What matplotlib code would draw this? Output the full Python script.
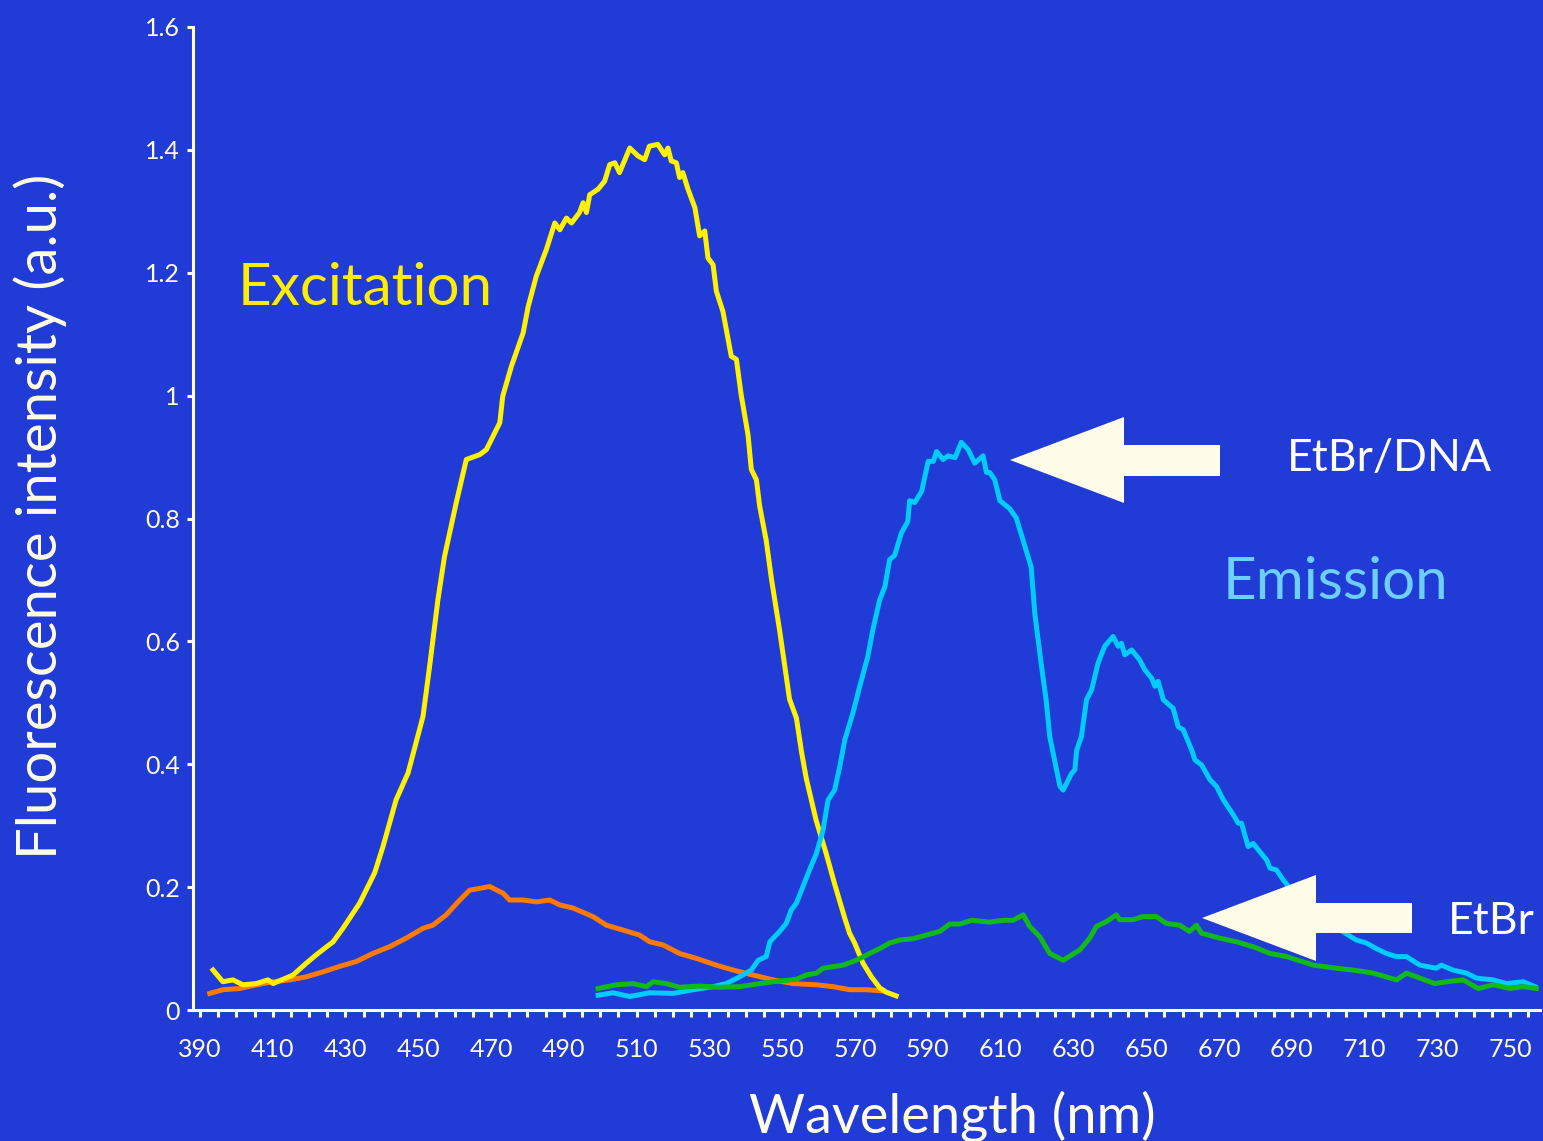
import matplotlib
matplotlib.use("Agg")
import matplotlib.pyplot as plt
from matplotlib.patches import Polygon

plt.rcParams['font.family'] = ['Lato', 'DejaVu Sans']

# excitation, EtBr/DNA (yellow)
ex_dna_nm = [393.6, 396.3, 399.1, 401.8, 405.5, 408.7, 410.1, 415.6, 419.2, 422.0,
             426.6, 429.3, 433.9, 438.0, 440.3, 443.9, 447.2, 451.3, 453.1, 455.4,
             457.2, 460.4, 463.2, 466.9, 468.7, 472.4, 473.2, 475.6, 478.8, 480.2,
             482.4, 485.2, 487.5, 488.9, 490.7, 492.1, 494.3, 495.3, 496.2, 497.1,
             499.4, 501.2, 502.6, 504.0, 505.3, 508.1, 510.4, 512.2, 513.5, 515.8,
             517.7, 518.6, 519.5, 520.9, 521.8, 522.7, 524.1, 526.0, 527.3, 528.7,
             529.6, 531.0, 531.9, 533.7, 536.0, 537.4, 538.7, 540.6, 541.5, 542.9,
             543.8, 545.6, 547.0, 549.3, 552.0, 553.9, 555.3, 556.6, 559.3, 562.1,
             564.4, 567.2, 568.5, 569.9, 572.2, 574.5, 576.8, 578.6, 581.3]
ex_dna = [0.065, 0.046, 0.049, 0.041, 0.043, 0.049, 0.043, 0.057, 0.076, 0.090,
          0.111, 0.133, 0.174, 0.223, 0.266, 0.342, 0.386, 0.478, 0.559, 0.668,
          0.738, 0.825, 0.896, 0.904, 0.912, 0.956, 0.999, 1.048, 1.102, 1.145,
          1.194, 1.238, 1.281, 1.270, 1.289, 1.281, 1.298, 1.314, 1.298, 1.327,
          1.336, 1.349, 1.376, 1.379, 1.363, 1.403, 1.390, 1.384, 1.406, 1.409,
          1.392, 1.403, 1.382, 1.379, 1.355, 1.363, 1.336, 1.306, 1.260, 1.268,
          1.224, 1.213, 1.170, 1.137, 1.064, 1.059, 1.002, 0.936, 0.880, 0.863,
          0.820, 0.764, 0.703, 0.617, 0.506, 0.475, 0.420, 0.377, 0.309, 0.254,
          0.205, 0.149, 0.125, 0.109, 0.076, 0.054, 0.036, 0.029, 0.023]

# excitation, EtBr (orange)
ex_etbr_nm = [392.7, 396.3, 400.9, 405.5, 410.1, 414.7, 419.2, 423.8, 428.4, 433.0,
              437.5, 442.1, 446.7, 451.3, 454.0, 457.7, 461.4, 464.1, 466.9, 469.6,
              473.3, 475.1, 478.8, 482.5, 486.1, 488.9, 492.5, 498.0, 501.7, 506.3,
              510.8, 513.6, 517.2, 521.8, 526.4, 531.9, 536.5, 541.9, 547.5, 553.0,
              559.4, 564.0, 568.5, 573.1, 577.7]
ex_etbr = [0.027, 0.033, 0.035, 0.041, 0.046, 0.049, 0.054, 0.062, 0.071, 0.079,
           0.092, 0.103, 0.117, 0.133, 0.138, 0.155, 0.179, 0.195, 0.198, 0.201,
           0.190, 0.179, 0.179, 0.176, 0.179, 0.171, 0.166, 0.152, 0.138, 0.130,
           0.122, 0.111, 0.106, 0.092, 0.084, 0.073, 0.065, 0.057, 0.049, 0.043,
           0.041, 0.038, 0.033, 0.033, 0.031]

# emission, EtBr/DNA (cyan)
em_dna_nm = [499.4, 503.5, 508.1, 513.6, 520.0, 525.5, 531.0, 534.6, 538.3, 541.5,
             543.4, 545.6, 546.6, 549.3, 551.1, 552.5, 553.9, 555.7, 557.5, 559.4,
             561.2, 562.6, 564.4, 565.8, 567.2, 569.4, 571.3, 573.5, 574.9, 576.8,
             578.2, 579.5, 580.9, 582.7, 584.5, 585.0, 586.4, 588.3, 590.1, 591.5,
             592.4, 594.2, 595.6, 597.5, 599.2, 601.1, 602.9, 605.2, 606.1, 607.0,
             608.4, 609.8, 612.5, 614.3, 616.2, 618.4, 619.4, 621.2, 622.5, 623.5,
             626.3, 627.2, 629.5, 630.4, 630.9, 632.2, 633.6, 635.0, 636.8, 638.6,
             640.9, 642.3, 643.2, 644.1, 646.0, 648.2, 649.6, 651.5, 652.4, 653.3,
             654.7, 657.4, 658.8, 660.2, 662.5, 663.4, 665.2, 667.5, 669.3, 671.2,
             673.9, 675.3, 676.2, 678.0, 679.4, 683.1, 684.0, 685.8, 687.6, 692.0,
             697.0, 702.0, 707.7, 710.5, 713.2, 716.0, 718.7, 721.5, 725.2, 729.7,
             731.1, 734.3, 738.0, 740.7, 745.3, 749.0, 753.6, 756.8]
em_dna = [0.024, 0.028, 0.022, 0.028, 0.027, 0.033, 0.038, 0.043, 0.054, 0.065,
          0.081, 0.087, 0.111, 0.128, 0.141, 0.163, 0.174, 0.201, 0.228, 0.255,
          0.293, 0.342, 0.358, 0.396, 0.440, 0.483, 0.527, 0.575, 0.619, 0.668,
          0.689, 0.733, 0.740, 0.776, 0.795, 0.829, 0.826, 0.844, 0.893, 0.893,
          0.909, 0.896, 0.902, 0.899, 0.924, 0.912, 0.890, 0.902, 0.875, 0.875,
          0.863, 0.829, 0.816, 0.801, 0.764, 0.721, 0.645, 0.561, 0.505, 0.445,
          0.364, 0.358, 0.385, 0.391, 0.423, 0.445, 0.505, 0.521, 0.565, 0.592,
          0.608, 0.592, 0.597, 0.578, 0.586, 0.570, 0.554, 0.540, 0.527, 0.535,
          0.505, 0.491, 0.461, 0.456, 0.423, 0.407, 0.399, 0.375, 0.364, 0.342,
          0.318, 0.304, 0.304, 0.266, 0.271, 0.244, 0.231, 0.228, 0.212, 0.180,
          0.155, 0.135, 0.114, 0.109, 0.100, 0.092, 0.087, 0.087, 0.073, 0.068,
          0.073, 0.065, 0.060, 0.052, 0.049, 0.043, 0.046, 0.038]

# emission, EtBr (green)
em_etbr_nm = [499.4, 504.4, 509.0, 512.7, 514.5, 518.1, 521.8, 527.3, 532.8, 538.3,
              543.8, 547.5, 553.9, 556.6, 559.4, 561.2, 566.7, 570.4, 574.0, 576.8,
              579.5, 582.3, 585.9, 589.6, 593.3, 596.0, 598.8, 602.0, 607.0, 610.7,
              613.4, 616.2, 618.0, 620.8, 623.5, 627.2, 631.8, 634.5, 636.3, 639.1,
              641.8, 642.7, 646.4, 649.1, 652.8, 655.5, 659.2, 661.9, 663.8, 665.2,
              670.2, 674.8, 679.4, 684.0, 688.6, 695.9, 702.3, 706.9, 712.4, 718.8,
              721.5, 725.2, 729.3, 732.5, 737.1, 741.2, 745.4, 750.0, 753.6, 757.2]
em_etbr = [0.035, 0.041, 0.043, 0.038, 0.046, 0.043, 0.037, 0.039, 0.037, 0.038,
           0.043, 0.046, 0.050, 0.057, 0.060, 0.068, 0.073, 0.081, 0.092, 0.100,
           0.109, 0.114, 0.116, 0.122, 0.128, 0.140, 0.140, 0.146, 0.143, 0.146,
           0.146, 0.155, 0.136, 0.119, 0.092, 0.081, 0.098, 0.117, 0.136, 0.144,
           0.155, 0.147, 0.147, 0.152, 0.152, 0.141, 0.138, 0.128, 0.138, 0.125,
           0.117, 0.111, 0.103, 0.092, 0.087, 0.073, 0.068, 0.065, 0.060, 0.049,
           0.060, 0.052, 0.043, 0.046, 0.049, 0.035, 0.041, 0.035, 0.038, 0.035]

y_ticks = [0, 0.2, 0.4, 0.6, 0.8, 1.0, 1.2, 1.4, 1.6]
y_labels = ['0', '0.2', '0.4', '0.6', '0.8', '1', '1.2', '1.4', '1.6']

bg = '#213BD6'
cream = '#FFFDE6'
W, H = 1543, 1141

fig = plt.figure(figsize=(W / 100, H / 100), dpi=100, facecolor=bg)
ax = fig.add_axes([193 / W, 131 / H, 1347 / W, 983 / H], facecolor=bg)

lw = 3.6
ax.plot(ex_etbr_nm, ex_etbr, color='#FF7A00', lw=lw)
ax.plot(ex_dna_nm, ex_dna, color='#FFF200', lw=lw)
ax.plot(em_dna_nm, em_dna, color='#00CCFF', lw=lw)
ax.plot(em_etbr_nm, em_etbr, color='#12BA18', lw=lw)

ax.set_xlim(388.1, 758.2)
ax.set_ylim(0, 1.6)

for s in ['top', 'right']:
    ax.spines[s].set_visible(False)
for s in ['left', 'bottom']:
    ax.spines[s].set_color(cream)
    ax.spines[s].set_linewidth(2.2)

xt = list(range(390, 756, 5))
ax.set_xticks(xt)
ax.set_xticklabels([str(v) if (v - 390) % 20 == 0 else '' for v in xt])
ax.set_yticks(y_ticks)
ax.set_yticklabels(y_labels)
ax.tick_params(axis='x', colors=cream, length=5, width=2.2, pad=15, labelsize=18)
ax.tick_params(axis='y', colors=cream, length=4.5, width=2.2, pad=5, labelsize=18)


def px(x, y):
    return (x / W, 1 - y / H)


def arrow(tip_x, tip_y, head_x, head_top, head_bot, tail_x, sh_top, sh_bot):
    pts = [px(tip_x, tip_y), px(head_x, head_top), px(head_x, sh_top), px(tail_x, sh_top),
           px(tail_x, sh_bot), px(head_x, sh_bot), px(head_x, head_bot)]
    fig.patches.append(Polygon(pts, closed=True, transform=fig.transFigure,
                               facecolor='#FFFDE8', edgecolor='none', zorder=5))


arrow(1010, 460, 1124, 417, 503, 1220, 445, 476)
arrow(1202, 918, 1316, 875, 961, 1412, 903, 933)

fig.text(*px(238, 305), 'Excitation', color='#FFEE00', fontsize=42, ha='left', va='baseline')
fig.text(*px(1223, 599), 'Emission', color='#6CCFFF', fontsize=42, ha='left', va='baseline')
fig.text(*px(1287, 471), 'EtBr/DNA', color='white', fontsize=32, ha='left', va='baseline')
fig.text(*px(1448, 934), 'EtBr', color='white', fontsize=32, ha='left', va='baseline')

fig.text(*px(40, 516), 'Fluorescence intensity (a.u.)', color=cream, fontsize=40.5,
         rotation=90, ha='center', va='center')
fig.text(*px(952, 1133), 'Wavelength (nm)', color=cream, fontsize=39,
         ha='center', va='baseline')

fig.savefig('out.png', dpi=100, facecolor=bg)
